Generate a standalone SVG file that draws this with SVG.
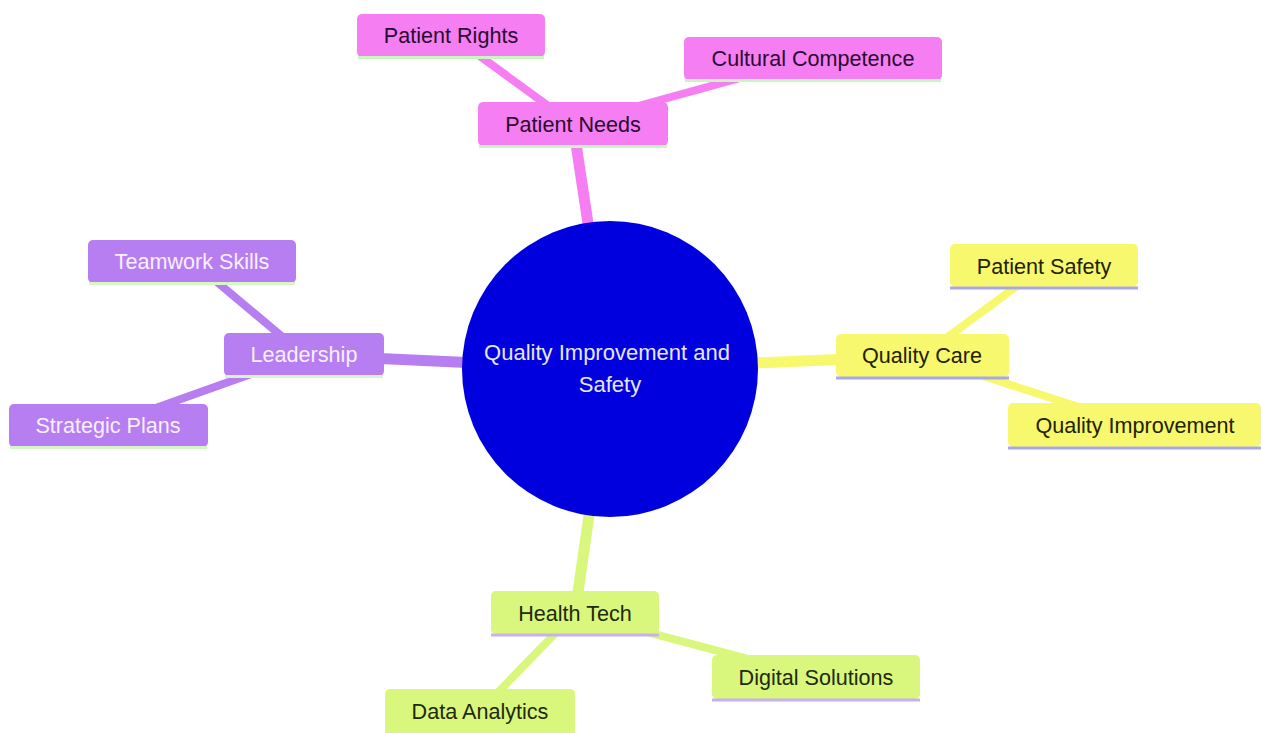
<svg xmlns="http://www.w3.org/2000/svg" width="1261" height="733" viewBox="0 0 1261 733">
<style>
text{font-family:"Liberation Sans",Arial,sans-serif;font-size:21.6px;text-anchor:middle;dominant-baseline:central}
.pink rect.b{fill:#f57ff2}.pink .u{stroke:#c8f5c0}.pink text{fill:#2a0a2e}
.purp rect.b{fill:#b77ef2}.purp .u{stroke:#d8f5c8}.purp text{fill:#f6f0ff}
.yell rect.b{fill:#f8f86e}.yell .u{stroke:#a8a8e8}.yell text{fill:#222200}
.grn rect.b{fill:#d9f77c}.grn .u{stroke:#c8b0ec}.grn text{fill:#1e2a10}
.u{stroke-width:3;fill:none}
#connectors line{stroke-linecap:butt}
.lp{stroke:#f57ff2}.lv{stroke:#b77ef2}.ly{stroke:#f8f86e}.lg{stroke:#d9f77c}
.main{stroke-width:11}.sub{stroke-width:8}
</style>
<rect width="1261" height="733" fill="#ffffff"/>
<g id="connectors">
<line class="lp main" x1="610" y1="369" x2="573" y2="124"/>
<line class="lp sub" x1="451" y1="35" x2="573" y2="124"/>
<line class="lp sub" x1="813" y1="58" x2="573" y2="124"/>
<line class="lv main" x1="610" y1="369" x2="304" y2="355"/>
<line class="lv sub" x1="192" y1="261" x2="304" y2="355"/>
<line class="lv sub" x1="108" y1="425" x2="304" y2="355"/>
<line class="ly main" x1="610" y1="369" x2="922" y2="356"/>
<line class="ly sub" x1="1044" y1="266" x2="922" y2="356"/>
<line class="ly sub" x1="1134" y1="425" x2="922" y2="356"/>
<line class="lg main" x1="610" y1="369" x2="575" y2="613"/>
<line class="lg sub" x1="816" y1="677" x2="575" y2="613"/>
<line class="lg sub" x1="480" y1="711" x2="575" y2="613"/>
</g>
<g id="root">
<circle cx="610" cy="369" r="148" fill="#0000de"/>
<text x="607" y="352" fill="#e6e6ee" style="font-size:22px">Quality Improvement and</text>
<text x="610" y="384" fill="#e6e6ee" style="font-size:22px">Safety</text>
</g>
<g id="patient-needs" class="pink"><rect class="b" x="478" y="102" width="190" height="44" rx="5"/><line class="u" x1="479" y1="146.5" x2="667" y2="146.5"/><text x="573" y="124">Patient Needs</text></g>
<g id="patient-rights" class="pink"><rect class="b" x="357" y="14" width="188" height="43" rx="5"/><line class="u" x1="358" y1="57.5" x2="544" y2="57.5"/><text x="451" y="35">Patient Rights</text></g>
<g id="cultural-competence" class="pink"><rect class="b" x="684" y="37" width="258" height="43" rx="5"/><line class="u" x1="685" y1="80.5" x2="941" y2="80.5"/><text x="813" y="58">Cultural Competence</text></g>
<g id="leadership" class="purp"><rect class="b" x="224" y="333" width="160" height="43" rx="5"/><line class="u" x1="225" y1="376.5" x2="383" y2="376.5"/><text x="304" y="354">Leadership</text></g>
<g id="teamwork-skills" class="purp"><rect class="b" x="88" y="240" width="208" height="43" rx="5"/><line class="u" x1="89" y1="283.5" x2="295" y2="283.5"/><text x="192" y="261">Teamwork Skills</text></g>
<g id="strategic-plans" class="purp"><rect class="b" x="9" y="404" width="199" height="43" rx="5"/><line class="u" x1="10" y1="447.5" x2="207" y2="447.5"/><text x="108" y="425">Strategic Plans</text></g>
<g id="quality-care" class="yell"><rect class="b" x="836" y="334" width="173" height="43" rx="5"/><line class="u" x1="836" y1="378" x2="1009" y2="378"/><text x="922" y="355">Quality Care</text></g>
<g id="patient-safety" class="yell"><rect class="b" x="950" y="244" width="188" height="43" rx="5"/><line class="u" x1="950" y1="288" x2="1138" y2="288"/><text x="1044" y="266">Patient Safety</text></g>
<g id="quality-improvement" class="yell"><rect class="b" x="1008" y="403" width="253" height="44" rx="5"/><line class="u" x1="1008" y1="448" x2="1261" y2="448"/><text x="1135" y="425">Quality Improvement</text></g>
<g id="health-tech" class="grn"><rect class="b" x="491" y="591" width="168" height="43" rx="5"/><line class="u" x1="491" y1="635" x2="659" y2="635"/><text x="575" y="613">Health Tech</text></g>
<g id="digital-solutions" class="grn"><rect class="b" x="712" y="655" width="208" height="44" rx="5"/><line class="u" x1="712" y1="700" x2="920" y2="700"/><text x="816" y="677">Digital Solutions</text></g>
<g id="data-analytics" class="grn"><rect class="b" x="385" y="689" width="190" height="48" rx="5"/><text x="480" y="711">Data Analytics</text></g>
</svg>
